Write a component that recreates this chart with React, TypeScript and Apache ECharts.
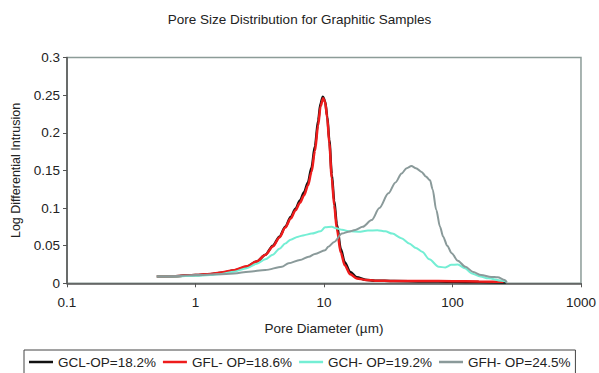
import React, { useEffect, useRef } from "react";
import * as echarts from "echarts";

const TITLE = "Pore Size Distribution for Graphitic Samples";
const X_NAME = "Pore Diameter (µm)";
const Y_NAME = "Log Differential Intrusion";
const SERIES_NAMES = ["GCL-OP=18.2%", "GFL- OP=18.6%", "GCH- OP=19.2%", "GFH- OP=24.5%"];

const gclD = [0.5, 0.7, 1, 1.3, 1.6, 2, 2.5, 3, 3.5, 4, 4.5, 5, 5.5, 6, 6.5, 7, 7.5, 8, 8.5, 9, 9.4, 9.8, 10.2, 10.6, 11, 11.5, 12, 12.6, 13.5, 14.5, 16, 18, 21, 25, 35, 60, 100, 160, 260];
const gclV = [0.009, 0.0095, 0.011, 0.012, 0.014, 0.017, 0.022, 0.029, 0.038, 0.05, 0.062, 0.075, 0.088, 0.099, 0.11, 0.121, 0.134, 0.154, 0.182, 0.216, 0.239, 0.248, 0.242, 0.222, 0.19, 0.145, 0.11, 0.078, 0.046, 0.028, 0.015, 0.008, 0.0048, 0.0035, 0.003, 0.0025, 0.002, 0.0017, 0.001];

const gflD = [0.5, 0.7, 1, 1.3, 1.6, 2, 2.5, 3, 3.5, 4, 4.5, 5, 5.5, 6, 6.5, 7, 7.5, 8, 8.5, 9, 9.4, 9.85, 10.2, 10.6, 11, 11.5, 12, 12.6, 13.5, 14.5, 16, 18, 21, 25, 35, 60, 100, 160, 250];
const gflV = [0.009, 0.0095, 0.011, 0.0125, 0.0145, 0.0175, 0.0225, 0.029, 0.038, 0.049, 0.061, 0.074, 0.086, 0.097, 0.107, 0.117, 0.13, 0.148, 0.176, 0.21, 0.235, 0.246, 0.241, 0.22, 0.186, 0.14, 0.104, 0.072, 0.041, 0.024, 0.012, 0.0065, 0.0045, 0.0035, 0.003, 0.003, 0.0028, 0.0025, 0.002];

const gchD = [0.5, 0.7, 1, 1.3, 1.6, 2, 2.5, 3, 3.5, 4, 4.5, 5, 5.5, 6.3, 7, 8, 9.4, 10.2, 11.5, 12.5, 13.8, 16, 18.6, 22, 26, 30, 34, 40, 46, 52, 58, 66, 78, 88, 98, 110, 125, 140, 165, 190, 240, 265];
const gchV = [0.009, 0.0092, 0.01, 0.011, 0.0125, 0.0155, 0.02, 0.026, 0.032, 0.038, 0.046, 0.053, 0.058, 0.062, 0.064, 0.066, 0.069, 0.0745, 0.075, 0.073, 0.071, 0.069, 0.0686, 0.07, 0.0705, 0.069, 0.066, 0.06, 0.053, 0.047, 0.042, 0.032, 0.022, 0.021, 0.0245, 0.025, 0.02, 0.0135, 0.009, 0.0066, 0.0035, 0.002];

const gfhD = [0.5, 0.7, 1, 1.5, 2, 2.6, 3.5, 4.7, 5.3, 6.5, 7.6, 8.5, 10.2, 10.8, 12, 13.8, 15.5, 17.5, 20, 23.5, 27, 31.7, 36, 40.2, 44, 47.9, 52, 57.5, 62, 66.9, 70, 74.8, 80, 84.6, 91, 98.5, 110, 126, 145, 167, 200, 225, 255, 265];
const gfhV = [0.009, 0.0095, 0.011, 0.012, 0.013, 0.0155, 0.0177, 0.022, 0.0266, 0.031, 0.0353, 0.039, 0.044, 0.0486, 0.055, 0.066, 0.0686, 0.0707, 0.075, 0.084, 0.1, 0.1195, 0.134, 0.146, 0.153, 0.1557, 0.153, 0.148, 0.142, 0.137, 0.125, 0.0973, 0.075, 0.062, 0.05, 0.04, 0.03, 0.022, 0.015, 0.011, 0.0085, 0.008, 0.0044, 0.001];

const COLORS = ["#111111", "#ee1c1c", "#74eed4", "#8a9a9a"];
const WIDTHS = [2.5, 2.5, 2, 2];

const zip = (d: number[], v: number[]) => d.map((x, i) => [x, v[i]]);

export default function App() {
  const ref = useRef<HTMLDivElement>(null);
  useEffect(() => {
    document.body.style.margin = "0";
    document.body.style.overflow = "hidden";
    if (!ref.current) return;
    const chart = echarts.init(ref.current, undefined, { renderer: "svg" });
    const data = [zip(gclD, gclV), zip(gflD, gflV), zip(gchD, gchV), zip(gfhD, gfhV)];
    const font = "'Liberation Sans', Arial, sans-serif";
    chart.setOption({
      animation: false,
      backgroundColor: "#ffffff",
      textStyle: { fontFamily: font },
      title: {
        text: TITLE,
        left: "center",
        top: 12,
        padding: 0,
        textStyle: { fontSize: 13.5, fontWeight: "normal", color: "#222", fontFamily: font },
      },
      legend: {
        left: 24,
        top: 350,
        orient: "horizontal",
        icon: "rect",
        itemWidth: 24,
        itemHeight: 2.5,
        itemGap: 7,
        padding: [5, 5, 5, 5],
        borderColor: "#444",
        borderWidth: 1,
        borderRadius: 0,
        textStyle: { fontSize: 13.5, color: "#222", fontFamily: font },
        data: SERIES_NAMES,
      },
      grid: {
        left: 67,
        right: 17,
        top: 57.5,
        bottom: 89.7,
        show: true,
        borderColor: "#8c9c98",
        borderWidth: 1.5,
        containLabel: false,
      },
      xAxis: {
        type: "log",
        logBase: 10,
        min: 0.1,
        max: 1000,
        name: X_NAME,
        nameLocation: "middle",
        nameGap: 38,
        nameTextStyle: { fontSize: 13.5, color: "#222", fontFamily: font },
        axisLine: { show: true, onZero: false, lineStyle: { color: "#555", width: 1.5 } },
        axisTick: { show: true, length: 4, lineStyle: { color: "#555" } },
        axisLabel: {
          fontSize: 13.5,
          color: "#222",
          margin: 12,
          formatter: (v: number) => String(+v.toPrecision(3)),
        },
        splitLine: { show: false },
        minorTick: { show: false },
      },
      yAxis: {
        type: "value",
        min: 0,
        max: 0.3,
        interval: 0.05,
        name: Y_NAME,
        nameLocation: "middle",
        nameGap: 37,
        nameTextStyle: { fontSize: 12.5, color: "#222", fontFamily: font },
        axisLine: { show: true, lineStyle: { color: "#555", width: 1.5 } },
        axisTick: { show: true, length: 4, lineStyle: { color: "#555" } },
        axisLabel: {
          fontSize: 13.5,
          color: "#222",
          margin: 7,
          formatter: (v: number) => String(+v.toFixed(2)),
        },
        splitLine: { show: false },
      },
      series: SERIES_NAMES.map((name, i) => ({
        name,
        type: "line",
        data: data[i],
        showSymbol: false,
        symbol: "none",
        smooth: 0.3,
        smoothMonotone: "x",
        color: COLORS[i],
        lineStyle: { color: COLORS[i], width: WIDTHS[i] },
      })),
    });
    return () => chart.dispose();
  }, []);
  return <div ref={ref} style={{ width: 599, height: 373 }} />;
}
